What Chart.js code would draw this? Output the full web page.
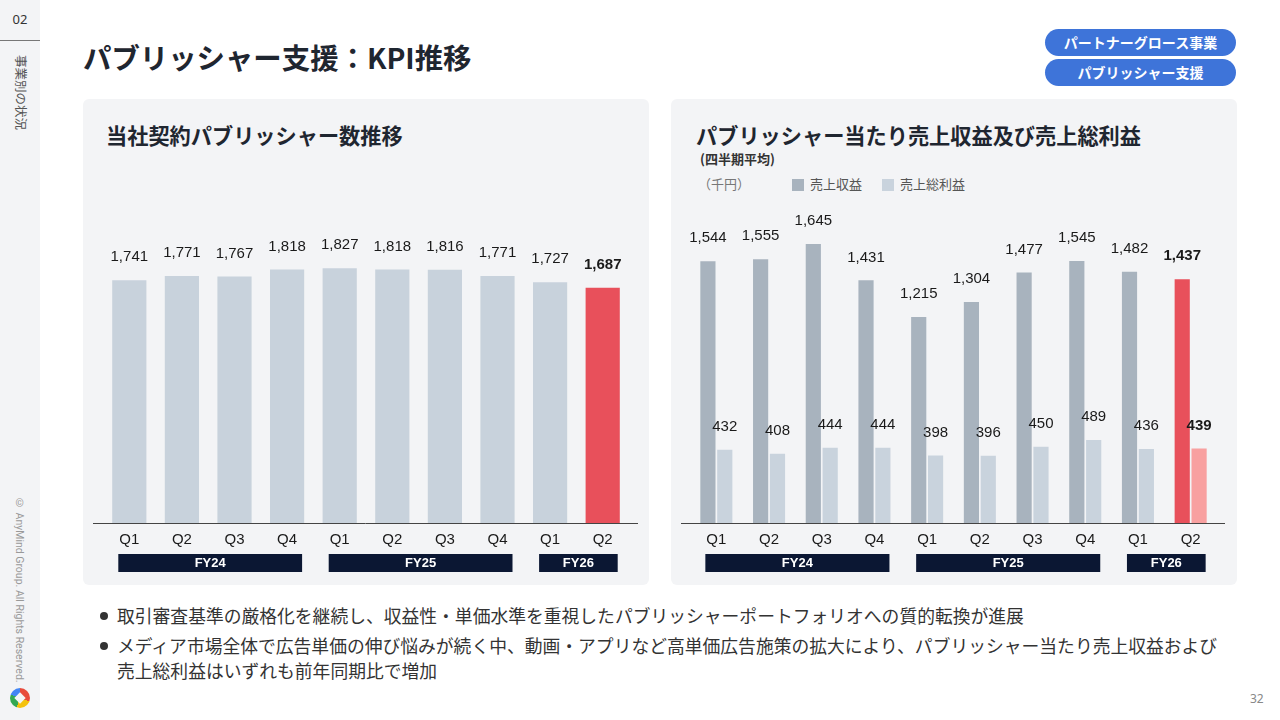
<!DOCTYPE html>
<html lang="ja">
<head>
<meta charset="utf-8">
<script src="https://cdn.jsdelivr.net/npm/chart.js@4.4.1/dist/chart.umd.min.js"></script>
<style>
  body { margin: 0; width: 1280px; height: 720px; background: #fff; position: relative; overflow: hidden;
         font-family: "Noto Sans CJK JP", "Noto Sans", sans-serif; color: #1f2630; }
  .side { position: absolute; left: 0; top: 0; width: 40px; height: 720px; background: #f3f4f6; }
  .side .num { position: absolute; left: 0; top: 10px; width: 40px; text-align: center; font-size: 13px; color: #333; font-family: "Noto Sans", sans-serif; }
  .side .rule { position: absolute; left: 0; top: 40px; width: 40px; border-top: 1.5px solid #777; }
  .side .sec { position: absolute; left: 12px; top: 55px; writing-mode: vertical-rl; text-orientation: sideways; font-size: 12.5px; color: #555; }
  .side .copy { position: absolute; left: 13px; top: 497px; writing-mode: vertical-rl; font-size: 10.5px; color: #999; font-family: Roboto, sans-serif; }
  .side .logo { position: absolute; left: 10px; top: 688px; width: 20px; height: 20px; border-radius: 50%;
                background: conic-gradient(#e84b3c 0deg 110deg, #f4c20d 110deg 200deg, #34a853 200deg 290deg, #4285f4 290deg 360deg); }
  .side .logo::after { content: ""; position: absolute; left: 6px; top: 6px; width: 8px; height: 8px; background: #f3f4f6; transform: rotate(45deg); }
  h1 { position: absolute; left: 83px; top: 36px; margin: 0; font-size: 28.4px; font-weight: 700; color: #1f2630; }
  .pill { position: absolute; left: 1045px; width: 191px; height: 27px; border-radius: 14px; background: #3e74d9;
          color: #fff; font-size: 14px; font-weight: 700; text-align: center; line-height: 27px; }
  .panel { position: absolute; top: 99px; height: 486px; background: #f3f4f6; border-radius: 6px; }
  .ptitle { position: absolute; margin: 0; font-size: 21.2px; font-weight: 700; color: #1f2630; }
  .sub { position: absolute; left: 700px; top: 149px; font-size: 13px; font-weight: 700; color: #333; }
  .unit { position: absolute; left: 698px; top: 174px; font-size: 13px; color: #777; }
  .leg { position: absolute; top: 174px; font-size: 13px; color: #555; }
  .leg i { display: inline-block; width: 12px; height: 12px; vertical-align: -2px; margin-right: 6px; }
  canvas { position: absolute; }
  .notes { position: absolute; left: 100px; top: 603px; font-size: 17.8px; color: #333; line-height: 25px; }
  .notes div { position: relative; padding-left: 17px; margin-bottom: 5px; }
  .notes div::before { content: ""; position: absolute; left: 0; top: 9px; width: 8px; height: 8px; border-radius: 50%; background: #333; }
  .page { position: absolute; left: 1250px; top: 690px; font-size: 12px; color: #888; font-family: "Noto Sans", sans-serif; }
</style>
</head>
<body>
<div class="side">
  <div class="num">02</div>
  <div class="rule"></div>
  <div class="sec">事業別の状況</div>
  <div class="copy">© AnyMind Group. All Rights Reserved.</div>
  <div class="logo"></div>
</div>

<h1>パブリッシャー支援：KPI推移</h1>
<div class="pill" style="top:29px">パートナーグロース事業</div>
<div class="pill" style="top:59px">パブリッシャー支援</div>

<div class="panel" style="left:83px;width:566px"></div>
<div class="panel" style="left:671px;width:566px"></div>
<div class="ptitle" style="left:106px;top:119px">当社契約パブリッシャー数推移</div>
<div class="ptitle" style="left:696px;top:119px">パブリッシャー当たり売上収益及び売上総利益</div>
<div class="sub">(四半期平均)</div>
<div class="unit">（千円）</div>
<div class="leg" style="left:792px"><i style="background:#a8b3be"></i>売上収益</div>
<div class="leg" style="left:882px"><i style="background:#c9d3dd"></i>売上総利益</div>

<canvas id="pubChart" width="545" height="447" style="left:93px;top:150px"></canvas>
<canvas id="revChart" width="544" height="397" style="left:681px;top:200px"></canvas>

<div class="notes">
  <div>取引審査基準の厳格化を継続し、収益性・単価水準を重視したパブリッシャーポートフォリオへの質的転換が進展</div>
  <div>メディア市場全体で広告単価の伸び悩みが続く中、動画・アプリなど高単価広告施策の拡大により、パブリッシャー当たり売上収益および<br>売上総利益はいずれも前年同期比で増加</div>
</div>
<div class="page">32</div>

<script>
// data
const quarters = ["Q1", "Q2", "Q3", "Q4", "Q1", "Q2", "Q3", "Q4", "Q1", "Q2"];
const fiscalYears = ["FY24", "FY25", "FY26"];
const fyStart = [0, 4, 8];
const fyEnd = [3, 7, 9];
const publishers = [1741, 1771, 1767, 1818, 1827, 1818, 1816, 1771, 1727, 1687];
const revenue = [1544, 1555, 1645, 1431, 1215, 1304, 1477, 1545, 1482, 1437];
const grossProfit = [432, 408, 444, 444, 398, 396, 450, 489, 436, 439];

const last = quarters.length - 1;
const numFont = '"Liberation Sans", Arial, sans-serif';

function colorsFor(base, highlight) {
  return quarters.map((q, i) => i === last ? highlight : base);
}

// value labels above bars
const valueLabels = {
  id: "valueLabels",
  afterDatasetsDraw(chart) {
    const ctx = chart.ctx;
    ctx.save();
    ctx.fillStyle = "#1a1a1a";
    ctx.textAlign = "center";
    ctx.textBaseline = "middle";
    chart.data.datasets.forEach((ds, d) => {
      chart.getDatasetMeta(d).data.forEach((bar, i) => {
        ctx.font = (i === last ? "bold " : "") + "15px " + numFont;
        ctx.fillText(ds.data[i].toLocaleString("en-US"), bar.x, bar.y - 23);
      });
    });
    ctx.restore();
  }
};

// baseline across the whole width + fiscal year boxes
const fyBoxes = {
  id: "fyBoxes",
  afterDraw(chart) {
    const ctx = chart.ctx;
    const x = chart.scales.x;
    const base = chart.chartArea.bottom;
    ctx.save();
    ctx.strokeStyle = "#444";
    ctx.lineWidth = 1;
    ctx.beginPath();
    ctx.moveTo(0, base + 0.5);
    ctx.lineTo(chart.width, base + 0.5);
    ctx.stroke();
    ctx.font = "bold 13px " + numFont;
    ctx.textAlign = "center";
    ctx.textBaseline = "middle";
    fiscalYears.forEach((fy, k) => {
      const x1 = x.getPixelForValue(fyStart[k]) - 11;
      const x2 = x.getPixelForValue(fyEnd[k]) + 15;
      ctx.fillStyle = "#0b1733";
      ctx.fillRect(x1, base + 31, x2 - x1, 18);
      ctx.fillStyle = "#fff";
      ctx.fillText(fy, (x1 + x2) / 2, base + 40);
    });
    ctx.restore();
  }
};

function baseOptions(yMax, padLeft, padRight) {
  return {
    responsive: false,
    animation: false,
    layout: { padding: { left: padLeft, right: padRight, top: 0, bottom: 40 } },
    plugins: { legend: { display: false }, tooltip: { enabled: false } },
    scales: {
      x: {
        grid: { display: false, drawTicks: false },
        border: { display: false },
        ticks: { color: "#1a1a1a", padding: 8, font: { size: 15, family: numFont } }
      },
      y: { display: false, min: 0, max: yMax }
    }
  };
}

new Chart(document.getElementById("pubChart"), {
  type: "bar",
  data: {
    labels: quarters,
    datasets: [{
      data: publishers,
      backgroundColor: colorsFor("#c8d2dc", "#e8505b"),
      categoryPercentage: 1,
      barPercentage: 0.65
    }]
  },
  options: baseOptions(2675, 10, 9),
  plugins: [valueLabels, fyBoxes]
});

new Chart(document.getElementById("revChart"), {
  type: "bar",
  data: {
    labels: quarters,
    datasets: [
      {
        label: "売上収益",
        data: revenue,
        backgroundColor: colorsFor("#a8b3be", "#e8505b"),
        categoryPercentage: 0.64,
        barPercentage: 0.9
      },
      {
        label: "売上総利益",
        data: grossProfit,
        backgroundColor: colorsFor("#c9d3dd", "#f8a0a0"),
        categoryPercentage: 0.64,
        barPercentage: 0.9
      }
    ]
  },
  options: baseOptions(1905, 9, 8),
  plugins: [valueLabels, fyBoxes]
});
</script>
</body>
</html>
